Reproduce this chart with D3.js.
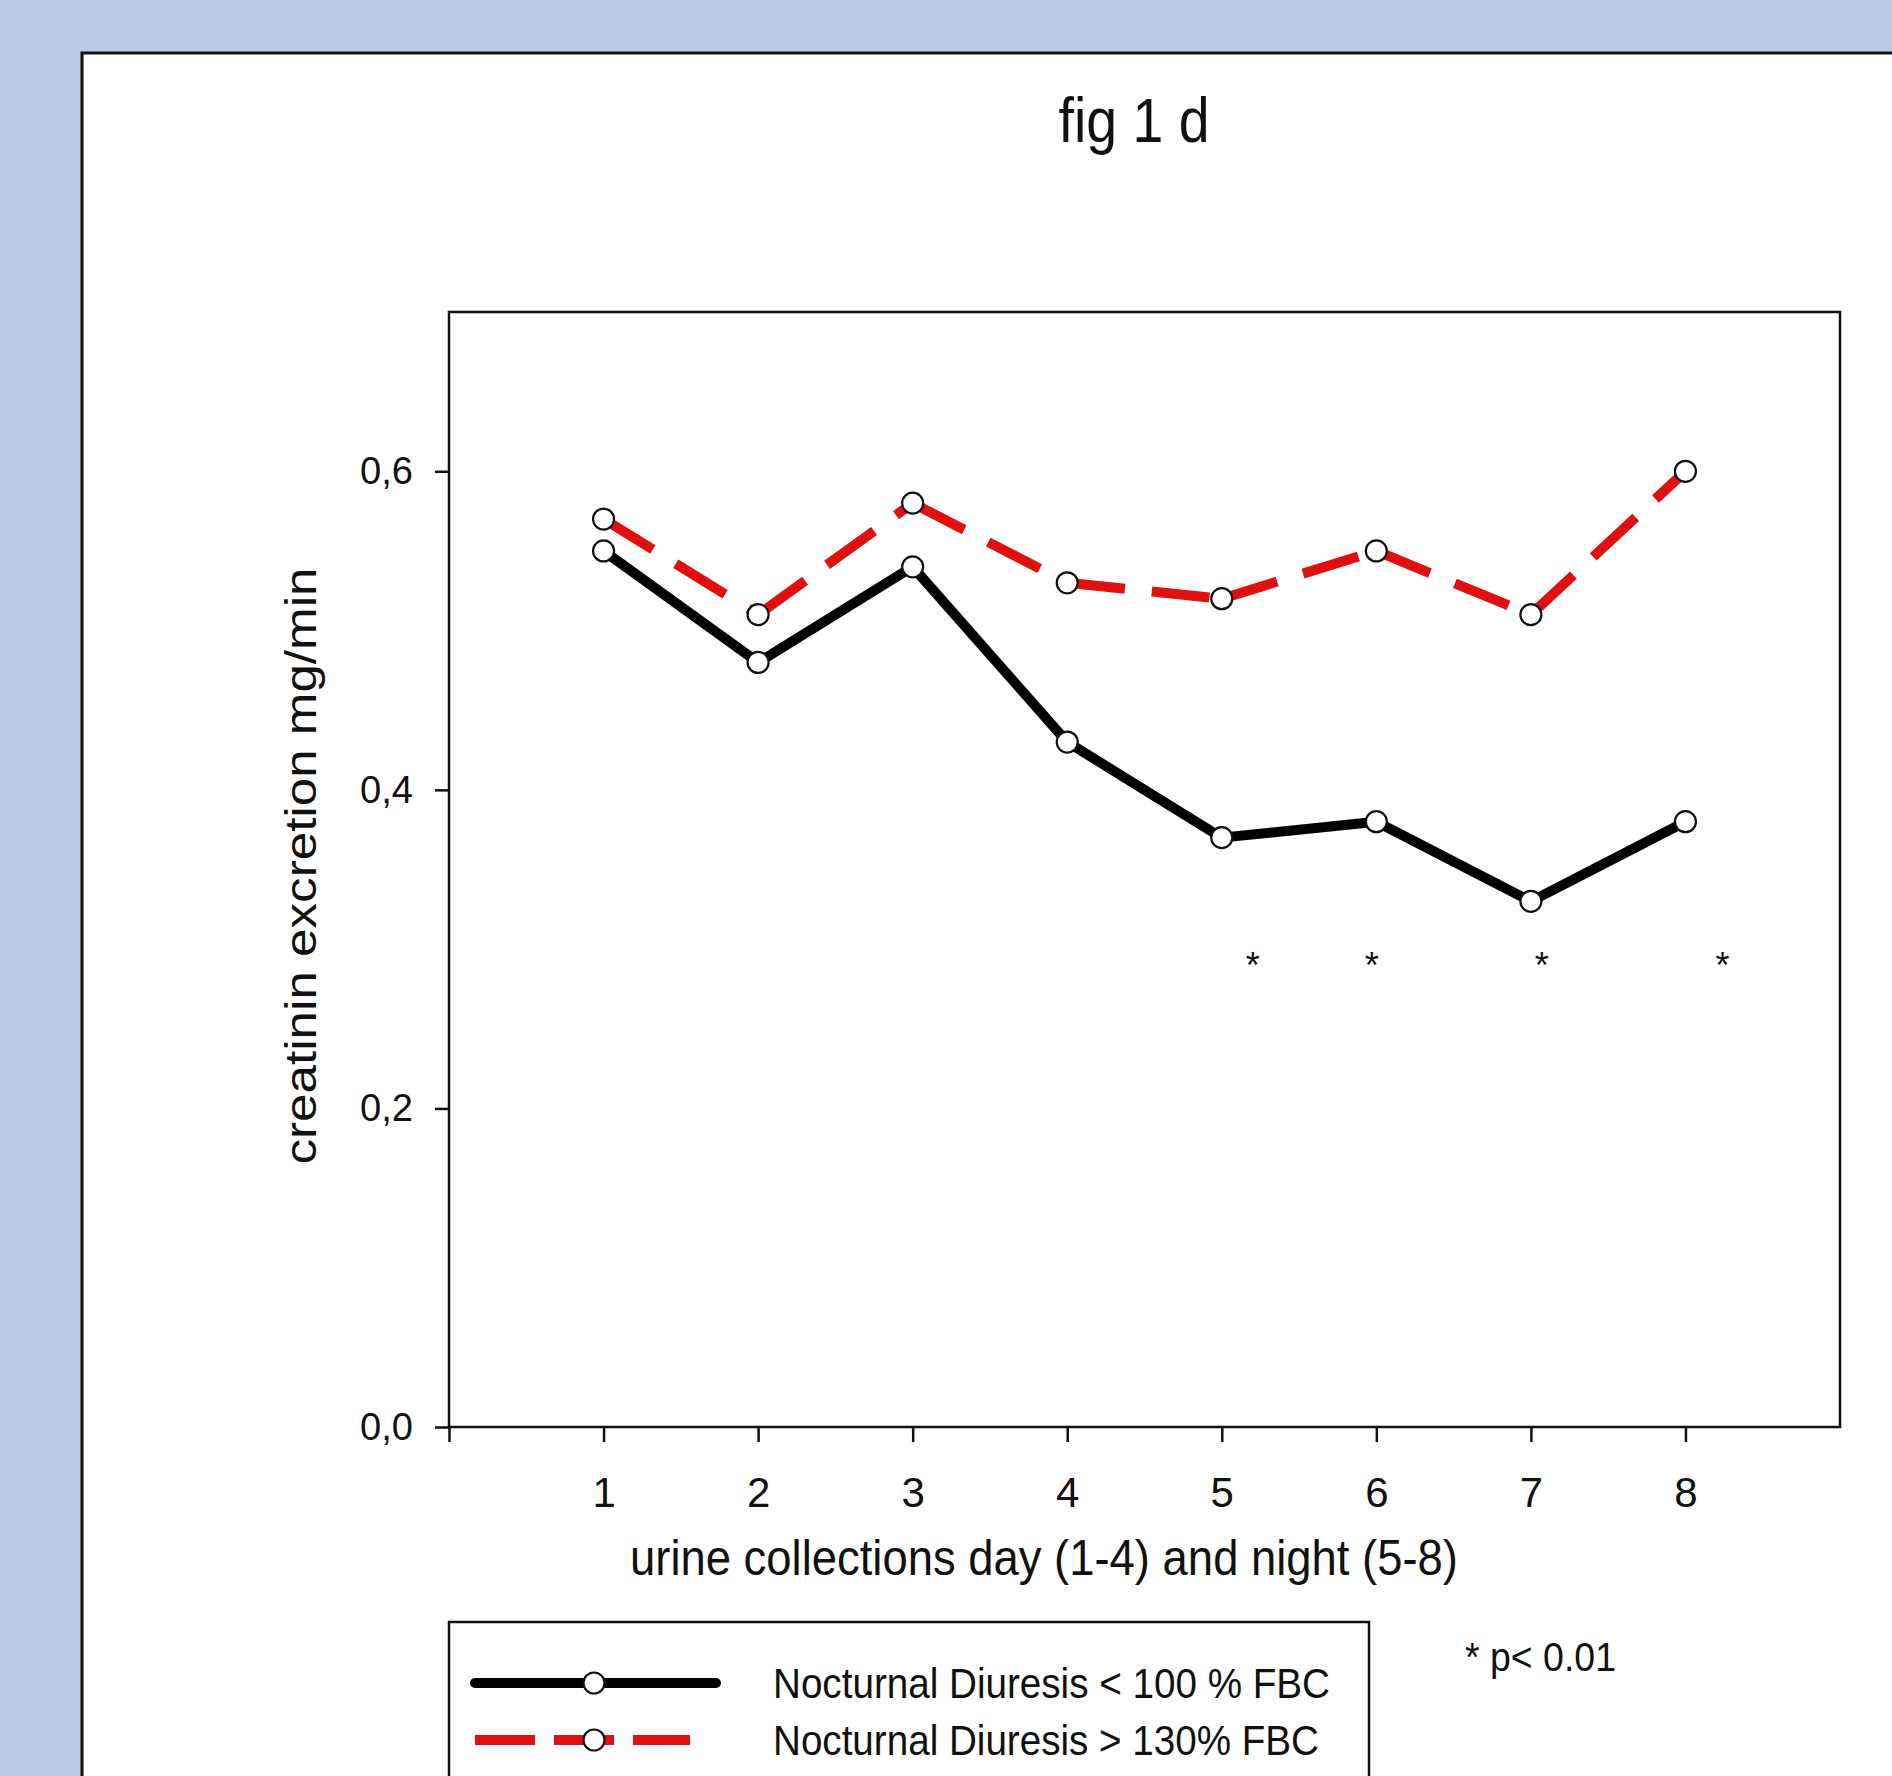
<!DOCTYPE html>
<html>
<head>
  <title>fig 1 d</title>
  <script src="https://cdn.jsdelivr.net/npm/d3@7/dist/d3.min.js"></script>
  <style>
    body { margin: 0; background: #b8cce4; }
    svg text { font-family: "Liberation Sans", Arial, sans-serif; fill: #111; }
  </style>
</head>
<body>
<svg width="1892" height="1776"></svg>

<script>
  // data
  var collections = [1, 2, 3, 4, 5, 6, 7, 8];
  var lowFbc  = [0.55, 0.48, 0.54, 0.43, 0.37, 0.38, 0.33, 0.38];   // Nocturnal Diuresis < 100 % FBC
  var highFbc = [0.57, 0.51, 0.58, 0.53, 0.52, 0.55, 0.51, 0.60];   // Nocturnal Diuresis > 130% FBC
  var yTicks = [0, 0.2, 0.4, 0.6];
  var xTicks = [0, 1, 2, 3, 4, 5, 6, 7, 8];
  var starX = [5.2, 5.97, 7.07, 8.24];
  var starY = 0.295;
  var legendLabels = ["Nocturnal Diuresis < 100 % FBC", "Nocturnal Diuresis > 130% FBC"];

  var svg = d3.select("svg");

  // white panel on blue background
  svg.append("rect")
    .attr("x", 82).attr("y", 53)
    .attr("width", 1892).attr("height", 1800)
    .style("fill", "white").style("stroke", "#111").style("stroke-width", 3);

  // plot area (note: "top" is reserved on window, so use other names)
  var plotLeft = 449, plotRight = 1840, plotTop = 312, plotBottom = 1427;

  var x = d3.scaleLinear().domain([0, 9]).range([plotLeft, plotRight]);
  var y = d3.scaleLinear().domain([0, 0.7]).range([plotBottom, plotTop]);

  // title
  svg.append("text")
    .attr("x", 1134).attr("y", 142)
    .attr("text-anchor", "middle")
    .style("font-size", "63px")
    .attr("textLength", 151).attr("lengthAdjust", "spacingAndGlyphs")
    .text("fig 1 d");

  // frame
  svg.append("rect")
    .attr("x", plotLeft).attr("y", plotTop)
    .attr("width", plotRight - plotLeft).attr("height", plotBottom - plotTop)
    .style("fill", "none").style("stroke", "#111").style("stroke-width", 2.5);

  // axes
  var yAxis = svg.append("g")
    .attr("transform", "translate(" + plotLeft + ",0)")
    .call(d3.axisLeft(y).tickValues(yTicks).tickSize(14).tickPadding(22)
      .tickFormat(function(d) { return d.toFixed(1).replace(".", ","); }));
  yAxis.select(".domain").remove();
  yAxis.selectAll("line").style("stroke", "#111").style("stroke-width", 2.5);
  yAxis.selectAll("text").style("font-size", "39px").style("font-family", "Liberation Sans, Arial, sans-serif")
    .attr("fill", "#222").attr("textLength", 53).attr("lengthAdjust", "spacingAndGlyphs");

  var xAxis = svg.append("g")
    .attr("transform", "translate(0," + plotBottom + ")")
    .call(d3.axisBottom(x).tickValues(xTicks).tickSize(15).tickPadding(35)
      .tickFormat(function(d) { return d === 0 ? "" : d; }));
  xAxis.select(".domain").remove();
  xAxis.selectAll("line").style("stroke", "#111").style("stroke-width", 2.5);
  xAxis.selectAll("text").style("font-size", "42px").style("font-family", "Liberation Sans, Arial, sans-serif").attr("fill", "#222");

  // axis titles
  svg.append("text")
    .attr("x", 1044).attr("y", 1575)
    .attr("text-anchor", "middle")
    .style("font-size", "50px")
    .attr("textLength", 828).attr("lengthAdjust", "spacingAndGlyphs")
    .text("urine collections day (1-4) and night (5-8)");

  svg.append("text")
    .attr("transform", "translate(316,866) rotate(-90)")
    .attr("text-anchor", "middle")
    .style("font-size", "44px")
    .attr("textLength", 597).attr("lengthAdjust", "spacingAndGlyphs")
    .text("creatinin excretion mg/min");

  // series
  var series = [
    { values: lowFbc,  color: "#000000", dash: null },
    { values: highFbc, color: "#e01010", dash: "58,27" }
  ];

  var line = d3.line()
    .x(function(d) { return x(d[0]); })
    .y(function(d) { return y(d[1]); });

  series.forEach(function(s) {
    var pts = collections.map(function(c, i) { return [c, s.values[i]]; });
    // each segment is its own path so the dash pattern restarts at every marker
    svg.append("g").selectAll("path")
      .data(d3.pairs(pts))
      .join("path")
      .attr("d", function(p) { return line(p); })
      .style("fill", "none")
      .style("stroke", s.color)
      .style("stroke-width", 10)
      .style("stroke-dasharray", s.dash);
  });

  series.forEach(function(s) {
    svg.append("g").selectAll("circle")
      .data(collections)
      .join("circle")
      .attr("cx", function(d) { return x(d); })
      .attr("cy", function(d, i) { return y(s.values[i]); })
      .attr("r", 10.5)
      .style("fill", "white").style("stroke", "#111").style("stroke-width", 2.2);
  });

  // significance stars
  svg.append("g").selectAll("text")
    .data(starX)
    .join("text")
    .attr("x", function(d) { return x(d); })
    .attr("y", y(starY))
    .attr("dy", "0.58em")
    .attr("text-anchor", "middle")
    .style("font-size", "36px")
    .text("*");

  svg.append("text")
    .attr("x", 1465).attr("y", 1671)
    .style("font-size", "40px")
    .attr("textLength", 151).attr("lengthAdjust", "spacingAndGlyphs")
    .text("* p< 0.01");

  // legend
  svg.append("rect")
    .attr("x", 449).attr("y", 1622)
    .attr("width", 920).attr("height", 300)
    .style("fill", "white").style("stroke", "#111").style("stroke-width", 2.5);

  var legendRows = [1683, 1740];
  var legendTextLen = [557, 546];
  series.forEach(function(s, i) {
    var ly = legendRows[i];
    svg.append("line")
      .attr("x1", 475).attr("x2", s.dash ? 690 : 716)
      .attr("y1", ly).attr("y2", ly)
      .style("stroke", s.color).style("stroke-width", 10)
      .style("stroke-linecap", s.dash ? "butt" : "round")
      .style("stroke-dasharray", s.dash ? "60,19" : null);
    svg.append("circle")
      .attr("cx", 594).attr("cy", ly).attr("r", 10.5)
      .style("fill", "white").style("stroke", "#111").style("stroke-width", 2.2);
    svg.append("text")
      .attr("x", 773).attr("y", ly + 15)
      .style("font-size", "43px")
      .attr("textLength", legendTextLen[i]).attr("lengthAdjust", "spacingAndGlyphs")
      .text(legendLabels[i]);
  });
</script>
</body>
</html>
